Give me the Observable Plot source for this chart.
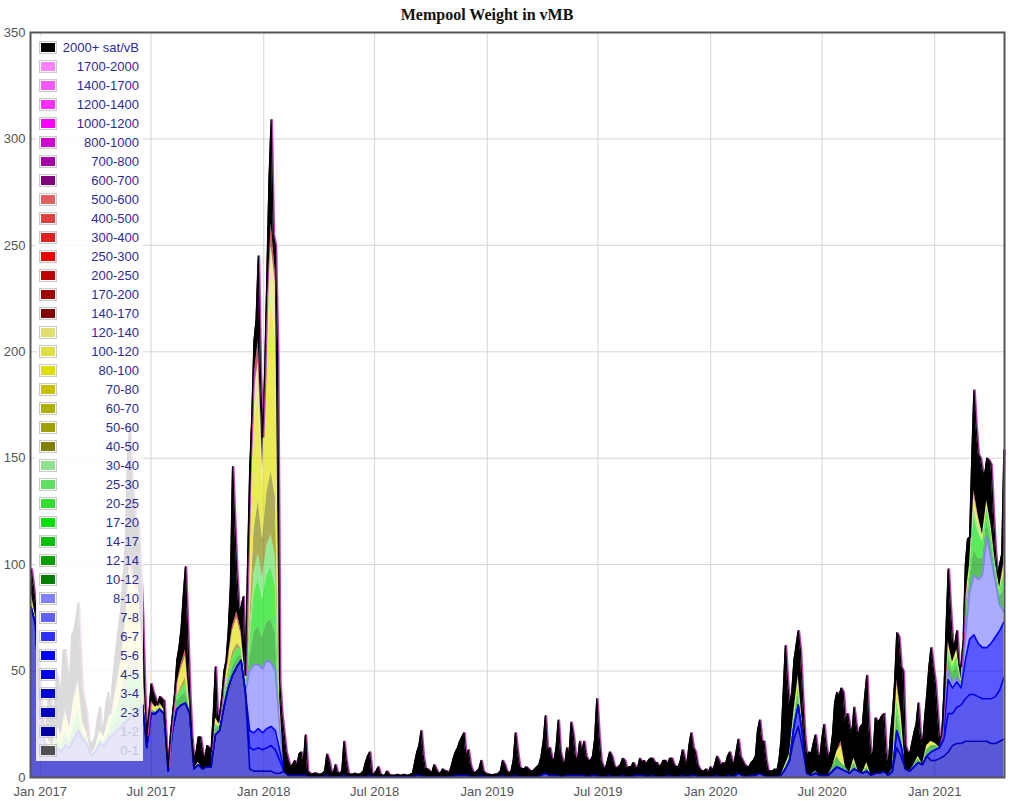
<!DOCTYPE html>
<html><head><meta charset="utf-8">
<script src="https://cdn.jsdelivr.net/npm/d3@7"></script>
<script src="https://cdn.jsdelivr.net/npm/@observablehq/plot@0.6"></script>
<style>
body{margin:0;background:#fff;font-family:Arial,"Liberation Sans",sans-serif;}
#wrap{position:relative;width:1010px;height:801px;overflow:hidden;}
#title{position:absolute;left:0;top:7px;width:974px;text-align:center;font:bold 16px "Liberation Serif","Times New Roman",serif;line-height:16px;color:#111;}
#chart{position:absolute;left:0;top:26px;}
#legend{position:absolute;left:36px;top:36px;width:107px;height:725px;background:rgba(255,255,255,0.86);}
.sw{position:absolute;left:3px;width:14px;height:9px;border:1px solid #ccc;padding:1px;background-clip:content-box;}
.lb{position:absolute;right:4px;font:13px Arial,"Liberation Sans",sans-serif;line-height:13px;color:#2b2b99;white-space:nowrap;}
</style></head>
<body><div id="wrap"><div id="title">Mempool Weight in vMB</div><div id="chart"></div><div id="legend"></div></div>
<script>
const zeros = n => Array(n).fill(0);

// legend (top to bottom) and colours
const bandNames = ["2000+ sat/vB","1700-2000","1400-1700","1200-1400","1000-1200","800-1000","700-800","600-700","500-600","400-500","300-400","250-300","200-250","170-200","140-170","120-140","100-120","80-100","70-80","60-70","50-60","40-50","30-40","25-30","20-25","17-20","14-17","12-14","10-12","8-10","7-8","6-7","5-6","4-5","3-4","2-3","1-2","0-1"];
const bandColors = ["#000000","#ff80ff","#ff58ff","#ff30ff","#ff00ff","#d000d0","#a800a8","#800080","#e06060","#e04040","#e02020","#f00000","#c00000","#a00000","#800000","#e0e070","#e0e040","#e0e000","#c8c000","#b0b000","#a0a000","#808000","#90e090","#60e060","#30e030","#00e000","#00c000","#00a000","#008000","#8080ff","#6060ff","#3030ff","#0000ff","#0000e8","#0000d0","#0000c0","#0000a0","#505050"];
const hiddenBands = ["1-2","0-1"];

// weekly samples from 2016-12-17; total mempool weight (vMB)
const total = [
98,82,45,25,36,30,49,40,60,45, 69,82,40,30,15,20,33,25,40,45, 64,80,110,165,130,120,76,20,44,37,
38,36,5,30,55,70,99,40,8,19, 12,15,13,52,30,50,69,146,96,80, 48,144,205,245,160,235,309,250,45,
21,8,6,5,12,20,2,2,1.5,2, 11,3,6,2,17,2,1.5,1.5,2,7, 12,1.5,5,1,3,1,1,1,1.5,1,
2,12,22,4,3,6,2,4,3,5, 12,17,21,13,3,3,8,2,1.5,1.5, 2,8,3,3,21,5,4,4,3,5,
10,29,14,8,27,8,14,26,10,17, 17,8,10,37,8,4,12,6,5,9, 4,5,5,9,8,8,9,7,6,8,
9,6,5,13,5,21,12,4,3,2, 3,10,5,6,12,6,18,8,5,7, 10,
27,17,3,3,3,18,62,33,55,69, 39,10,11,20,8,25,9,20,40,42, 26,24,33,19,25,48,10,28,27,30,
5,30,68,52,15,11,21,35,15,39, 61,44,17,40,98,64,69,52,100,113, 182,152,144,150,147,107,100,154
];
// total half a week after each weekly sample
const totalMid = [
90,60,30,22,38,35,44,60,50,67, 75,60,35,18,17,28,22,35,30,55, 72,95,150,140,115,100,40,30,40,30,
37,15,20,40,61,85,70,15,12,19, 8,14,30,25,38,55,90,120,78,85, 100,170,215,190,190,280,255,200,
30,12,5,8,11,6,3,1.5,2,1.5, 3,8,2,2,3,8,1.5,2,1.5,3, 10,2,3,1.5,1,1.5,1,1.5,1,1,
1.5,7,15,10,4,2,4,2,3,2, 9,14,19,9,6,2,4,3,1.5,1, 1.5,3,6,2,8,12,4,5,3,4,
6,17,12,9,14,12,6,10,20,8, 12,10,8,18,20,5,8,10,4,6, 8,5,7,4,7,6,9,7,5,8,
6,9,5,8,9,15,14,6,3,4, 5,6,8,7,10,8,12,10,6,5, 8,
22,17,8,3,4,8,40,45,40,62, 60,20,12,16,12,18,15,12,35,38, 40,30,20,25,24,38,24,12,26,29,
12,20,45,66,50,12,16,25,20,28, 52,52,30,20,70,80,62,45,58,112, 150,165,150,142,149,125,80,105
];

const fee2_3 = [
80,72,35,18,12,10,14,12,15,14, 18,22,18,16,10,12,16,15,18,20, 22,24,26,28,30,32,34,14,30,30,
32,30,3,22,32,34,35,30,4,6, 4,5,5,20,22,33,42,48,52,55, 40,4,3,3,3,3,3,2,2,
3,1,1,1,1,1,0.5,0.5,0.5,0.5, 1,0.5,0.5,0.5,1,0.5,0.5,0.5,0.5,0.5, 1,0.5,0.5,0.5,0.5,0.5,0.5,0.5,0.5,0.5,
0.5,1,1,0.5,0.5,0.5,0.5,0.5,0.5,0.5, 1,1,1,1,0.5,0.5,1,0.5,0.5,0.5, 0.5,1,0.5,0.5,1,0.5,0.5,0.5,0.5,0.5,
1,2,1,1,1,0.5,1,1,1,1, 1,0.5,1,1,0.5,0.5,1,0.5,0.5,1, 0.5,0.5,1,1,1,0.5,1,0.5,0.5,0.5,
1,0.5,0.5,1,0.5,1,1,0.5,0.5,0.5, 0.5,1,0.5,0.5,1,0.5,2,1,0.5,1, 1,
2,1,0.5,0.5,0.5,1,4,8,18,24, 14,2,1,2,1,1,1,3,5,4, 3,2,4,3,2,3,1,2,2,3,
1,3,14,10,4,3,5,7,6,10, 8,8,9,10,12,15,16,16,17,17, 17,17,17,17,16,16,17,18
];
const fee4_5 = [
...zeros(51), 10,10,11,10,11,12,11,6,
...zeros(111),
0,0,0,0,0,0,0,0,6,10, 6,0,0,0,0,0,0,0,0,0, 0,0,0,0,0,0,0,0,0,0,
0,0,8,5,0,0,0,0,0,0, 4,5,5,8,18,15,17,18,20,22, 22,21,20,20,21,22,24,29
];
const fee5_6 = [
...zeros(51), 8,8,9,8,9,9,9,5,
...zeros(111),
...zeros(43), 3,16,12,12,8,18,26,28,25,24,24,26,28,28,26
];
const fee8_10 = [
...zeros(51), 28,32,30,30,32,30,28,10,
...zeros(111),
...zeros(44), 4,2,2,0,10,22,28,30,34,52,40,26,12,5
];
const fee12_14 = [
2,2,2,1,2,2,3,3,4,3, 4,5,3,2,1,1,2,2,3,4, 5,6,8,10,9,8,5,1,2,1,
1,0,0,2,4,4,5,2,0,0, 0,0,0,3,2,3,3,4,4,3, 2,6,15,18,15,18,20,18,3,
...zeros(111),
0,0,0,0,0,0,1,2,3,5, 3,0,0,1,0,0,0,2,5,3, 2,0,3,0,0,2,0,0,0,0,
0,1,8,5,0,0,1,2,0,3, 3,2,0,2,6,5,6,3,8,6, 12,10,8,8,8,5,4,10
];
const fee17_20 = [
1,0,0,0,0,0,2,0,3,0, 4,5,0,0,0,0,0,0,0,3, 5,6,8,10,9,8,4,0,0,0,
0,0,0,0,2,3,4,0,0,0, 0,0,0,2,0,2,3,4,4,3, 2,6,18,22,18,22,25,22,3,
...zeros(111),
0,0,0,0,0,0,0,0,2,4, 0,0,0,0,0,0,0,0,0,0, 0,0,0,0,0,0,0,0,0,0,
0,0,6,4,0,0,0,0,0,0, 0,0,0,0,4,3,4,0,6,4, 16,12,8,6,5,3,3,8
];
const fee25_30 = [
...zeros(51), 4,10,12,10,14,15,14,2,
...zeros(111),
...zeros(50), 4,3,0,0,0,0,0,0
];
const fee40_50 = [
0,0,0,0,0,0,0,0,0,0, 0,0,0,0,0,0,0,0,0,0, 0,4,6,8,7,6,2,0,0,0,
0,0,0,0,0,2,3,0,0,0, 0,0,0,0,0,0,2,3,3,0, 0,6,20,25,18,25,30,28,2,
...zeros(111),
...zeros(58)
];
const fee80_100 = [
3,2,2,1,4,3,6,5,8,6, 10,12,5,3,0,1,4,2,6,6, 10,14,22,35,30,28,12,1,3,2,
2,2,0,2,5,8,10,2,0,1, 0,0,0,3,1,3,6,10,12,6, 2,30,50,50,25,60,80,75,4,
...zeros(111),
0,0,0,0,0,0,1,1,2,4, 2,0,0,0,0,0,0,0,2,8, 0,0,2,0,0,2,0,0,0,0,
0,0,8,5,0,0,0,1,0,2, 2,1,0,1,3,2,3,1,4,3, 6,4,3,3,2,1,1,4
];
const fee120_140 = [
...zeros(23), 8,6,6, ...zeros(25), 10,15,15,8,20,26,25,0,
...zeros(111),
...zeros(58)
];
const fee200_250 = [
1,0,0,0,0,0,0,0,2,0, 2,2,0,0,0,0,0,0,0,0, 2,2,4,6,4,4,2,0,1,0,
0,0,0,0,1,2,3,0,0,0, 0,0,0,0,0,1,1,2,3,2, 0,3,8,10,3,6,10,5,0,
...zeros(111),
0,0,0,0,0,0,0,0,0,1, 0,0,0,0,0,0,0,0,0,2, 0,0,0,0,0,0,0,0,0,0,
0,0,2,1,0,0,0,0,0,0, 0,0,0,0,1,0,0,0,1,0, 2,1,0,0,0,0,0,1
];

const layers = [
  ["2-3", fee2_3], ["4-5", fee4_5], ["5-6", fee5_6], ["8-10", fee8_10],
  ["12-14", fee12_14], ["17-20", fee17_20], ["25-30", fee25_30], ["40-50", fee40_50],
  ["80-100", fee80_100], ["120-140", fee120_140], ["200-250", fee200_250]
];
const stackOrder = layers.map(l => l[0]);
const blueOrder = stackOrder.slice(0, 4);

const start = new Date(Date.UTC(2016, 11, 17));
const dates = total.map((_, i) => d3.utcDay.offset(start, 7 * i));

const rows = [];
dates.forEach((d, i) => layers.forEach(([band, arr]) => rows.push({date: d, band, value: arr[i] || 0})));
const blueRows = [];
dates.forEach((d, i) => layers.slice(0, 4).reverse().forEach(([band, arr]) => blueRows.push({date: d, band, value: arr[i] || 0})));

// top (2000+ sat/vB) layer: from the stacked bands up to the total
const sums = dates.map((d, i) => d3.sum(layers, l => l[1][i] || 0));
const topRows = [];
dates.forEach((d, i) => {
  topRows.push({date: d, lo: Math.min(sums[i], total[i]), hi: Math.max(sums[i], total[i])});
  if (i < totalMid.length) {
    const lo = (sums[i] + sums[i + 1]) / 2;
    topRows.push({date: d3.utcHour.offset(d, 84), lo, hi: Math.max(lo, totalMid[i])});
  }
});

const xTicks = d3.utcMonth.every(6).range(new Date(Date.UTC(2017, 0, 1)), new Date(Date.UTC(2021, 2, 1)));
const yTicks = d3.range(0, 351, 50);

const chart = Plot.plot({
  width: 1010, height: 775,
  marginLeft: 30, marginRight: 6, marginTop: 6, marginBottom: 24,
  style: {fontFamily: "Arial, 'Liberation Sans', sans-serif", fontSize: "13px", color: "#545454", background: "transparent", overflow: "visible"},
  x: {type: "utc", domain: [new Date(Date.UTC(2016, 11, 16)), new Date(Date.UTC(2021, 3, 25))], ticks: xTicks, tickFormat: d3.utcFormat("%b %Y"), tickSize: 0, tickPadding: 9, label: null},
  y: {domain: [0, 350], ticks: yTicks, tickSize: 0, tickPadding: 5, label: null},
  color: {domain: bandNames, range: bandColors},
  marks: [
    Plot.ruleX(xTicks, {x: d => d, stroke: "#d6d6d6", strokeWidth: 1}),
    Plot.ruleY(yTicks, {y: d => d, stroke: "#d6d6d6", strokeWidth: 1}),
    Plot.areaY(rows, {x: "date", y: "value", z: "band", fill: "band", order: stackOrder, fillOpacity: 0.65, curve: "linear"}),
    Plot.lineY(blueRows, Plot.stackY2({x: "date", y: "value", z: "band", stroke: "band", order: blueOrder, strokeWidth: 1.6, curve: "linear"})),
    Plot.lineY(topRows, {x: "date", y: "hi", stroke: "#c23cc2", strokeWidth: 1.5, dx: 1.2, curve: "linear"}),
    Plot.areaY(topRows, {x: "date", y1: "lo", y2: "hi", fill: "#000", curve: "linear"}),
    Plot.lineY(topRows, {x: "date", y: "hi", stroke: "#000", strokeWidth: 1.3, curve: "linear"}),
    Plot.frame({stroke: "#555", strokeWidth: 2})
  ]
});
document.getElementById("chart").appendChild(chart);

// legend inside the plot, top-left
const leg = d3.select("#legend");
bandNames.forEach((name, i) => {
  leg.append("div").attr("class", "sw")
    .style("top", (4.5 + 19 * i) + "px")
    .style("background-color", bandColors[i]);
  leg.append("div").attr("class", "lb")
    .style("top", (5.2 + 19 * i) + "px")
    .style("color", hiddenBands.includes(name) ? "#c6c6de" : "#2b2b99")
    .text(name);
});
</script>
</body></html>
